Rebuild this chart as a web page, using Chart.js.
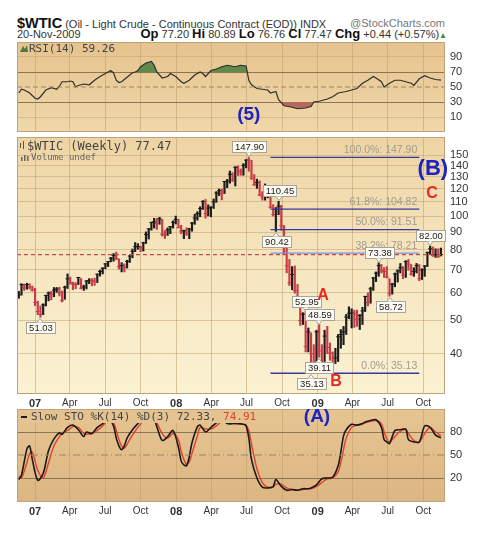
<!DOCTYPE html>
<html>
<head>
<meta charset="utf-8">
<script src="https://cdn.jsdelivr.net/npm/chart.js@4"></script>
<style>
  body { margin: 0; background: #fff; font-family: Arial, "Liberation Sans", sans-serif; }
  #page { position: relative; width: 483px; height: 538px; overflow: hidden; }
  canvas { position: absolute; left: 0; }
  .hd { position: absolute; white-space: nowrap; color: #333; line-height: 1; }
  .hd b { color: #111; }
</style>
</head>
<body>
<div id="page">
  <div class="hd" style="left:17px; top:16px; font-size:11px;"><b style="font-size:14.5px;">$WTIC</b> (Oil - Light Crude - Continuous Contract (EOD)) INDX</div>
  <div class="hd" style="right:38px; top:18px; font-size:11px; color:#777;">@StockCharts.com</div>
  <div class="hd" style="left:17px; top:29px; font-size:11px;">20-Nov-2009</div>
  <div class="hd" style="right:36px; top:27px; font-size:11px;"><b style="font-size:13px">Op</b> 77.20 <b style="font-size:13px">Hi</b> 80.89 <b style="font-size:13px">Lo</b> 76.76 <b style="font-size:13px">Cl</b> 77.47 <b style="font-size:13px">Chg</b> +0.44 (+0.57%)<span style="color:#3a8a3a; font-size:8px;">&#9650;</span></div>
  <canvas id="rsi" width="483" height="90" style="top:42px"></canvas>
  <canvas id="price" width="483" height="278" style="top:132px"></canvas>
  <canvas id="sto" width="483" height="108" style="top:409px"></canvas>
</div>
<script>
// weekly bars, first bar = week of 20-Nov-2006
const firstWeek = '2006-11-20';
const weekHigh = [60.6,63.8,63.6,64.0,63.8,62.8,61.9,56.8,55.0,55.8,59.1,60.4,60.6,62.2,62.2,62.3,60.8,62.8,68.1,66.7,
  64.5,64.3,66.5,66.0,63.2,65.2,66.0,66.0,66.2,68.0,69.8,71.0,73.0,74.0,76.0,78.0,78.8,75.3,73.4,72.8,
  74.6,77.0,80.4,83.9,83.3,82.0,84.1,90.1,92.2,96.2,98.6,98.5,99.3,98.0,90.9,92.5,93.5,97.0,100.1,97.9,
  94.1,91.2,92.6,92.3,96.0,101.3,103.1,106.5,111.0,111.8,107.9,106.5,112.2,117.8,119.9,119.9,126.2,127.8,135.1,133.7,
  139.1,139.9,137.0,142.0,145.8,147.9,145.0,132.0,128.0,126.6,117.8,124.0,121.0,117.5,108.0,106.0,110.45,107.5,94.0,83.0,
  75.0,71.5,71.8,63.5,58.5,52.6,52.95,47.5,46.0,42.5,46.8,48.59,42.5,46.8,48.0,43.0,40.5,41.5,45.5,47.0,
  48.0,52.0,54.7,54.0,53.5,53.5,52.0,54.5,58.7,60.0,62.3,66.5,69.0,73.38,72.5,71.0,71.5,66.0,64.0,68.5,
  70.0,73.0,71.5,74.4,75.0,72.5,71.0,73.0,72.5,70.5,72.0,78.8,82.0,81.5,80.5,80.5,80.89];
const weekLow = [57.9,59.1,61.0,61.5,61.6,60.7,55.1,51.9,51.03,51.9,55.0,56.9,57.3,58.5,60.2,58.8,56.5,57.5,61.8,63.6,
  61.3,61.7,63.4,61.6,61.0,61.6,63.8,62.9,63.1,64.3,67.1,68.1,70.5,71.5,73.8,74.1,74.8,70.3,69.0,69.0,
  70.8,73.5,75.8,79.0,80.3,79.0,79.3,83.4,85.9,91.1,92.4,91.6,94.8,87.6,86.2,88.0,89.0,92.4,95.0,92.5,
  89.0,86.1,88.0,86.1,90.5,94.7,97.4,99.6,104.6,98.7,100.2,99.6,105.3,109.7,114.7,111.5,116.3,120.9,124.6,126.0,
  122.3,131.2,131.3,131.4,138.0,134.9,127.8,122.7,120.4,114.6,111.3,111.3,113.0,105.5,100.1,90.42,101.0,91.0,77.6,68.6,
  63.0,61.3,59.9,54.7,48.3,48.6,40.5,40.5,35.13,36.6,37.5,39.11,37.3,38.0,40.0,38.3,36.9,37.5,38.0,41.5,
  42.5,45.5,50.5,47.5,47.7,48.0,47.0,48.6,53.0,55.0,56.0,61.0,64.7,67.0,68.5,66.5,66.3,58.72,59.5,62.5,
  64.5,68.5,66.0,66.5,69.8,67.5,67.0,68.5,65.1,65.6,67.0,71.5,77.5,76.5,76.0,76.0,76.76];
const weekClose = [59.2,63.4,62.0,63.4,62.4,61.1,56.3,53.0,52.0,55.4,59.0,59.9,59.4,61.1,61.6,60.0,57.1,62.3,65.9,64.3,
  63.6,63.4,66.5,61.9,62.4,64.9,65.2,65.1,64.8,68.0,69.2,70.7,72.8,73.9,75.6,77.0,75.5,71.5,72.0,71.1,
  74.0,76.7,79.1,81.6,81.7,81.2,83.7,88.6,91.9,95.9,96.3,95.1,98.2,88.7,88.3,91.3,93.3,96.0,97.9,92.7,
  90.6,90.7,89.0,91.8,95.5,98.8,101.8,105.2,110.2,101.8,105.6,106.2,110.1,116.7,118.5,116.3,126.0,126.3,132.2,127.4,
  138.5,134.9,134.6,140.2,145.3,145.1,128.9,123.3,125.1,115.2,113.8,114.6,115.5,106.2,101.2,104.6,106.9,93.9,77.7,71.9,
  64.2,67.8,61.0,57.0,49.9,52.1,42.0,46.3,40.0,37.7,46.3,40.8,37.9,45.0,41.7,40.2,37.5,38.9,44.8,45.5,
  46.3,51.1,52.4,52.5,52.2,50.3,51.6,53.2,58.6,56.3,61.7,66.3,68.4,72.0,69.6,69.2,66.7,59.9,63.6,68.05,
  69.45,70.9,67.5,73.9,72.7,68.0,69.3,72.0,66.0,69.95,71.8,78.5,80.5,77.0,77.4,76.35,77.47];

// RSI(14)
const rsiWeeks = [0,1,2,4,6,7,8,10,12,14,15,16,18,19,20,21,22,24,26,28,30,32,34,35,36,37,38,40,42,43,44,45,47,49,50,51,53,55,56,58,
  60,61,63,65,67,68,69,71,73,75,77,80,82,84,85,86,88,90,92,93,95,96,98,101,103,106,108,109,111,113,114,116,118,121,123,125,127,129,131,132,
  134,135,137,139,141,143,145,146,148,150,152,154,156];
const rsiValues = [42,47,46,42,35,34,37,46,49,47,51,57,57,58,57,50,52,54,53,59,64,68,72,69,59,56,57,63,69,70,72,77,82,84,79,70,62,64,68,64,
  57,55,59,66,70,68,64,72,74,77,79,77,79,78,59,53,48,47,46,42,44,33,25,23,21,22,24,30,31,33,34,37,42,44,46,48,55,59,64,62,
  57,50,55,59,59,57,55,52,61,65,62,60,59.26];

// Slow stochastic
const stoWeeks = [0,1,3,4,5,7,9,11,13,15,16,18,20,22,24,25,27,29,31,33,35,36,37,38,39,40,42,44,46,48,50,51,53,55,57,59,60,61,62,63,
  64,66,67,69,71,73,75,77,80,83,84,85,86,88,90,92,94,95,97,99,101,103,105,107,108,110,112,114,116,118,119,120,121,123,125,127,128,130,132,134,
  135,136,137,139,141,143,144,146,148,150,152,154,156];
const stoK = [18,24,58,62,44,17,26,56,71,79,77,86,89,83,74,80,78,86,91,98,88,72,62,57,62,72,83,91,97,98,96,87,69,74,82,60,42,37,36,48,
  66,87,89,80,86,92,97,91,91,90,88,72,44,20,8,7,9,18,9,4,5,4,6,6,7,11,19,20,21,36,54,75,83,90,89,91,93,95,96,86,
  70,67,65,82,83,84,70,67,67,88,86,76,72.33];
const stoD = [22,20,40,52,54,30,20,40,62,74,78,82,87,86,78,77,78,82,88,95,92,82,70,62,59,64,76,86,94,97,97,92,78,72,78,70,55,44,38,41,
  52,75,86,84,84,88,94,93,91,90,89,82,64,32,14,8,8,12,12,7,5,4,5,6,6,9,14,19,20,28,40,57,72,86,89,90,92,94,95,91,
  80,71,67,74,81,83,78,69,67,78,86,80,74.91];

const tickDates = ['2007-01-01','2007-04-01','2007-07-01','2007-10-01','2008-01-01','2008-04-01','2008-07-01','2008-10-01','2009-01-01','2009-04-01','2009-07-01','2009-10-01'];
const tickLabels = ['07','Apr','Jul','Oct','08','Apr','Jul','Oct','09','Apr','Jul','Oct'];
const priceTicks = [40,50,60,70,80,90,100,110,120,130,140,150];
const rsiTicks = [10,30,50,70,90];
const stoTicks = [20,50,80];

// fib retracement and marked pivots
const fibLevels = [1, 0.618, 0.5, 0.382, 0];
const fibFromWeek = 93, fibToWeek = 148;
const pivotWeeks = [8, 85, 95, 96, 106, 111, 111, 108, 133, 137, 152];
const pivotSides = ['low','high','low','high','high','high','low','low','high','low','high'];
const waveTexts = ['(B)', 'C', 'A', 'B'];
const waveWeeks = [153, 152.7, 112.4, 117.2];
const wavePrices = [137, 116, 58.9, 33.3];

const weekOf = d => (Date.parse(d) - Date.parse(firstWeek)) / 6048e5;
const tickWeeks = tickDates.map(weekOf);
const xMin = -0.67, xMax = 157.5;
const lastClose = weekClose[weekClose.length - 1];
const fibHigh = Math.max(...weekHigh), fibLow = Math.min(...weekLow);
const fmt2 = v => (Math.round(v * 100 - 0.001) / 100).toFixed(2);

Chart.defaults.font.family = 'Arial, "Liberation Sans", sans-serif';
Chart.defaults.color = '#333';

const barColor = i => (i === 0 || weekClose[i] >= weekClose[i - 1]) ? '#1c1c1c' : '#c83c48';
const flat = (a, b, v) => [{ x: a, y: v }, { x: b, y: v }];

function timeAxis(showLabels, height) {
  return {
    type: 'linear', min: xMin, max: xMax, offset: false,
    afterBuildTicks: s => { s.ticks = tickWeeks.map(v => ({ value: v })); },
    afterFit: s => { s.height = height; s.paddingLeft = 0; s.paddingRight = 0; },
    grid: { color: 'rgba(190,158,110,0.55)', drawTicks: false, offset: false },
    border: { display: false },
    ticks: {
      display: showLabels, autoSkip: false, maxRotation: 0, padding: 3, color: '#333',
      callback: (v, i) => tickLabels[i],
      font: c => ({ size: /^\d/.test(tickLabels[c.index] || '') ? 11 : 10, weight: /^\d/.test(tickLabels[c.index] || '') ? 'bold' : 'normal' })
    }
  };
}

function valueAxis(type, min, max, ticks, gridColor) {
  return {
    type, position: 'right', min, max,
    afterBuildTicks: s => { s.ticks = ticks.map(v => ({ value: v })); },
    afterFit: s => { s.width = 38; s.paddingTop = 0; s.paddingBottom = 0; },
    grid: { color: gridColor, drawTicks: false },
    border: { display: false },
    ticks: { padding: 5, color: '#333', font: { size: 11 }, callback: v => String(v) }
  };
}

function panel(stops, notes) {
  return {
    id: 'panel',
    beforeDraw(chart) {
      const { ctx, chartArea: a } = chart;
      const g = ctx.createLinearGradient(0, a.top, 0, a.bottom);
      stops.forEach(s => g.addColorStop(s[0], s[1]));
      ctx.save();
      ctx.fillStyle = g;
      ctx.fillRect(a.left, a.top, a.right - a.left, a.bottom - a.top);
      ctx.restore();
    },
    afterDraw(chart) {
      const { ctx, chartArea: a } = chart;
      ctx.save();
      ctx.strokeStyle = '#bfa27a';
      ctx.lineWidth = 1;
      ctx.strokeRect(a.left + 0.5, a.top + 0.5, a.right - a.left - 1, a.bottom - a.top - 1);
      notes(chart, ctx);
      ctx.restore();
    }
  };
}

function bigText(ctx, text, px, py, color, size) {
  ctx.font = 'bold ' + size + 'px Arial';
  ctx.fillStyle = color;
  ctx.textAlign = 'center';
  ctx.textBaseline = 'middle';
  ctx.fillText(text, px, py);
}

function drawTag(ctx, text, px, py, side) {
  ctx.font = '9.5px Arial';
  const w = Math.round(ctx.measureText(text).width) + 5, h = 11;
  px = Math.round(px);
  const left = Math.round(px - w / 2) + 0.5;
  const top = side === 'high' ? Math.round(py - 5 - h) + 0.5 : Math.round(py + 5) + 0.5;
  ctx.fillStyle = '#fdfcf4';
  ctx.strokeStyle = '#a8a49a';
  ctx.lineWidth = 1;
  ctx.fillRect(left, top, w, h);
  ctx.strokeRect(left, top, w, h);
  ctx.beginPath();
  if (side === 'high') { ctx.moveTo(px - 3, top + h); ctx.lineTo(px, top + h + 4); ctx.lineTo(px + 3, top + h); }
  else { ctx.moveTo(px - 3, top); ctx.lineTo(px, top - 4); ctx.lineTo(px + 3, top); }
  ctx.fill();
  ctx.stroke();
  ctx.fillStyle = '#222';
  ctx.textAlign = 'center';
  ctx.textBaseline = 'middle';
  ctx.fillText(text, left + w / 2, top + h / 2 + 0.5);
}

const common = {
  responsive: false, animation: false, events: [], devicePixelRatio: 1,
  layout: { padding: { left: 17, right: 0, top: 0, bottom: 0 } },
  plugins: { legend: { display: false }, tooltip: { enabled: false } }
};

// ---- RSI panel
const rsiPts = rsiWeeks.map((w, i) => ({ x: w, y: rsiValues[i] }));
new Chart(document.getElementById('rsi'), {
  type: 'line',
  data: {
    datasets: [
      { data: flat(xMin, xMax, 50), borderColor: '#9c8464', borderWidth: 1, borderDash: [5, 3], pointRadius: 0 },
      { data: rsiPts, borderColor: '#2e2e2e', borderWidth: 1.2, pointRadius: 0,
        fill: { target: { value: 70 }, above: '#5f8a4c', below: 'rgba(0,0,0,0)' } },
      { data: rsiPts, borderColor: 'rgba(0,0,0,0)', borderWidth: 0, pointRadius: 0,
        fill: { target: { value: 30 }, above: 'rgba(0,0,0,0)', below: '#b5685c' } }
    ]
  },
  options: {
    ...common,
    scales: {
      x: timeAxis(false, 0),
      y: valueAxis('linear', -10, 110, rsiTicks,
        c => (c.tick && (c.tick.value === 30 || c.tick.value === 70)) ? '#8c7456' : (c.tick && c.tick.value === 50 ? 'rgba(0,0,0,0)' : 'rgba(190,158,110,0.45)'))
    }
  },
  plugins: [panel([[0, '#e6c38e'], [1, '#f0d8aa']], (chart, ctx) => {
    const { chartArea: a, scales: { x, y } } = chart;
    ctx.fillStyle = '#4d7a3d';
    ctx.beginPath();
    ctx.moveTo(a.left + 3, a.top + 10); ctx.lineTo(a.left + 6, a.top + 4); ctx.lineTo(a.left + 8, a.top + 7);
    ctx.lineTo(a.left + 10, a.top + 3); ctx.lineTo(a.left + 11, a.top + 10); ctx.closePath(); ctx.fill();
    ctx.font = '11px "DejaVu Sans Mono", monospace';
    ctx.fillStyle = '#444';
    ctx.textAlign = 'left'; ctx.textBaseline = 'middle';
    ctx.fillText('RSI(14) ' + rsiValues[rsiValues.length - 1].toFixed(2), a.left + 12, a.top + 7);
    bigText(ctx, '(5)', x.getPixelForValue(85), y.getPixelForValue(13), '#1c22c4', 19);
  })]
});

// ---- price panel
const fibSets = fibLevels.map(f => ({
  data: flat(fibFromWeek, fibToWeek, fibLow + f * (fibHigh - fibLow)),
  borderColor: f === 0.382 ? '#8a8ae6' : '#3a3a9c', borderWidth: 1.3, pointRadius: 0
}));
new Chart(document.getElementById('price'), {
  type: 'line',
  data: {
    datasets: [
      { data: flat(xMin, xMax, lastClose), borderColor: '#c2484a', borderWidth: 1.2, borderDash: [4, 3], pointRadius: 0 },
      ...fibSets,
      { data: weekClose.map((c, i) => ({ x: i, y: c })), showLine: false, pointStyle: 'line', pointRadius: 2,
        pointBorderWidth: 1, pointBorderColor: c => barColor(c.dataIndex) },
      { type: 'bar', data: weekHigh.map((h, i) => ({ x: i, y: [weekLow[i], h] })), barThickness: 1.5,
        backgroundColor: c => barColor(c.dataIndex), borderWidth: 0 }
    ]
  },
  options: {
    ...common,
    scales: {
      x: timeAxis(true, 16),
      y: valueAxis('logarithmic', 30.6, 169.5, priceTicks, 'rgba(190,158,110,0.5)')
    }
  },
  plugins: [panel([[0, '#eed4a4'], [0.5, '#f6e6c0'], [1, '#fbf2d2']], (chart, ctx) => {
    const { chartArea: a, scales: { x, y } } = chart;
    // legend
    ctx.fillStyle = '#555';
    ctx.fillRect(a.left + 3, a.top + 6, 1, 5); ctx.fillRect(a.left + 6, a.top + 4, 1, 8);
    ctx.font = '12px "DejaVu Sans Mono", monospace';
    ctx.fillStyle = '#444';
    ctx.textAlign = 'left'; ctx.textBaseline = 'middle';
    ctx.fillText('$WTIC (Weekly) ' + lastClose.toFixed(2), a.left + 10, a.top + 10);
    ctx.fillStyle = '#666';
    ctx.fillRect(a.left + 4, a.top + 20, 1.5, 4); ctx.fillRect(a.left + 7, a.top + 18, 1.5, 6); ctx.fillRect(a.left + 10, a.top + 19, 1.5, 5);
    ctx.font = '9px "DejaVu Sans Mono", monospace';
    ctx.fillText('Volume undef', a.left + 14, a.top + 21);
    // fib labels
    ctx.font = '10.5px Arial';
    ctx.fillStyle = '#a39b8e';
    ctx.textAlign = 'right'; ctx.textBaseline = 'bottom';
    fibLevels.forEach(f => {
      const v = fibLow + f * (fibHigh - fibLow);
      ctx.fillText((f * 100).toFixed(1) + '%: ' + fmt2(v), x.getPixelForValue(fibToWeek) - 2, y.getPixelForValue(v) - 2);
    });
    // pivot tags
    pivotWeeks.forEach((w, i) => {
      const side = pivotSides[i];
      const v = side === 'high' ? weekHigh[w] : weekLow[w];
      drawTag(ctx, v.toFixed(2), x.getPixelForValue(w), y.getPixelForValue(v), side);
    });
    // wave labels
    waveTexts.forEach((t, i) => {
      const blue = t.startsWith('(');
      bigText(ctx, t, x.getPixelForValue(waveWeeks[i]), y.getPixelForValue(wavePrices[i]), blue ? '#1c22c4' : '#e82a22', blue ? 22 : 16);
    });
  })]
});

// ---- slow stochastic panel
const kPts = stoWeeks.map((w, i) => ({ x: w, y: stoK[i] }));
const dPts = stoWeeks.map((w, i) => ({ x: w, y: stoD[i] }));
new Chart(document.getElementById('sto'), {
  type: 'line',
  data: {
    datasets: [
      { data: flat(xMin, xMax, 50), borderColor: '#9c8464', borderWidth: 1, borderDash: [7, 3, 1, 3], pointRadius: 0 },
      { data: kPts, borderColor: '#1a1a1a', borderWidth: 1.6, pointRadius: 0, tension: 0.3 },
      { data: dPts, borderColor: '#e2402e', borderWidth: 1.4, pointRadius: 0, tension: 0.3 }
    ]
  },
  options: {
    ...common,
    scales: {
      x: timeAxis(true, 15),
      y: valueAxis('linear', -11.3, 110, stoTicks,
        c => (c.tick && c.tick.value === 50) ? 'rgba(0,0,0,0)' : '#8c7456')
    }
  },
  plugins: [panel([[0, '#e6c592'], [1, '#dcb682']], (chart, ctx) => {
    const { chartArea: a, scales: { x, y } } = chart;
    ctx.font = '11px "DejaVu Sans Mono", monospace';
    const head = 'Slow STO %K(14) %D(3) ' + stoK[stoK.length - 1].toFixed(2) + ', ';
    const tail = stoD[stoD.length - 1].toFixed(2);
    const wHead = ctx.measureText(head).width, wTail = ctx.measureText(tail).width;
    ctx.fillStyle = '#e4c390';
    ctx.fillRect(a.left + 1, a.top + 1, wHead + wTail + 18, 13);
    ctx.fillStyle = '#1a1a1a';
    ctx.fillRect(a.left + 4, a.top + 7, 6, 2);
    ctx.fillStyle = '#444';
    ctx.textAlign = 'left'; ctx.textBaseline = 'middle';
    ctx.fillText(head, a.left + 14, a.top + 8);
    ctx.fillStyle = '#e2402e';
    ctx.fillText(tail, a.left + 14 + wHead, a.top + 8);
    bigText(ctx, '(A)', x.getPixelForValue(110.2), y.getPixelForValue(99.6), '#1c22c4', 19);
  })]
});
</script>
</body>
</html>
